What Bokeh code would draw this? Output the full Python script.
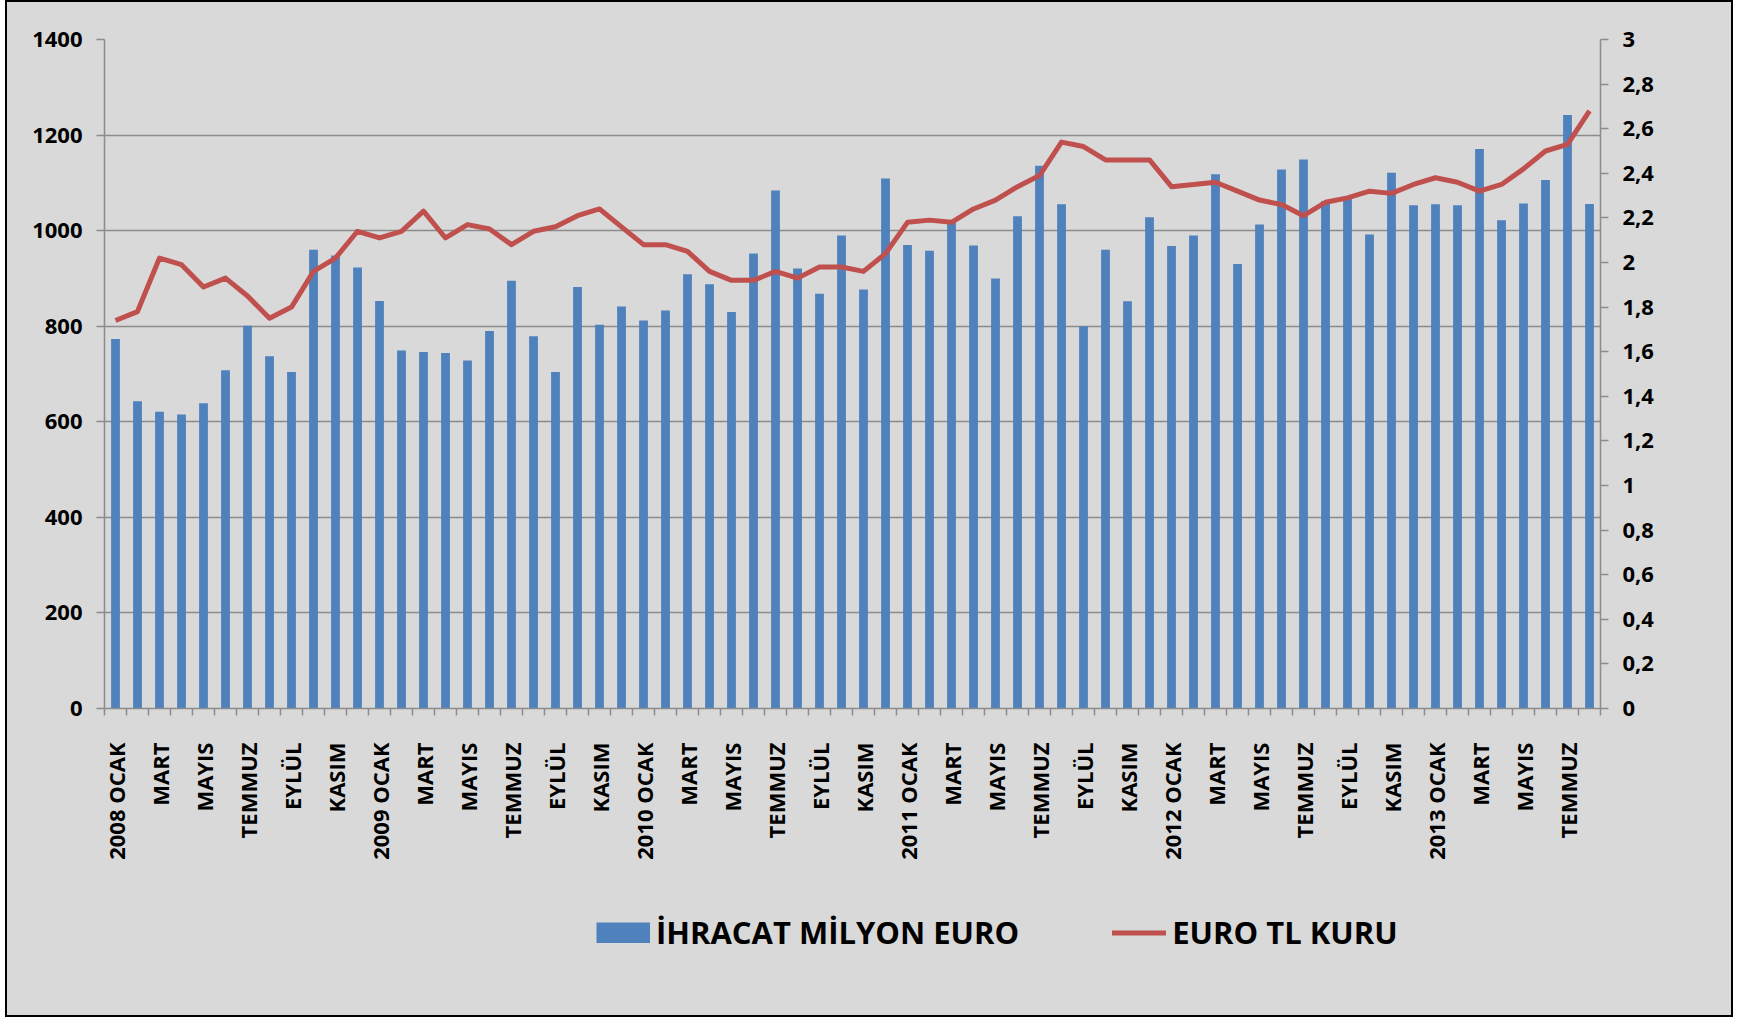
import math
from bokeh.plotting import figure
from bokeh.layouts import column
from bokeh.models import (Range1d, LinearAxis, FixedTicker, SingleIntervalTicker,
                          CustomJSTickFormatter, Legend, LegendItem)
from bokeh.embed import file_html
from bokeh.resources import INLINE

years = ["2008", "2009", "2010", "2011", "2012", "2013"]
month_names = ["OCAK", "ŞUBAT", "MART", "NİSAN", "MAYIS", "HAZİRAN",
               "TEMMUZ", "AĞUSTOS", "EYLÜL", "EKİM", "KASIM", "ARALIK"]
months_in_last_year = 8

ihracat = [773, 643, 621, 615, 639, 708, 801, 737, 704, 960, 948, 923,
           853, 749, 746, 744, 728, 790, 895, 779, 704, 882, 803, 841,
           812, 833, 909, 888, 830, 952, 1084, 921, 868, 990, 877, 1109,
           970, 958, 1018, 969, 900, 1030, 1136, 1055, 800, 960, 852, 1028,
           968, 990, 1118, 930, 1013, 1128, 1149, 1062, 1067, 992, 1121, 1053,
           1055, 1053, 1171, 1022, 1057, 1106, 1242, 1056]

kur = [1.74, 1.78, 2.02, 1.99, 1.89, 1.93, 1.85, 1.75, 1.80, 1.96, 2.02, 2.14,
       2.11, 2.14, 2.23, 2.11, 2.17, 2.15, 2.08, 2.14, 2.16, 2.21, 2.24, 2.16,
       2.08, 2.08, 2.05, 1.96, 1.92, 1.92, 1.96, 1.93, 1.98, 1.98, 1.96, 2.04,
       2.18, 2.19, 2.18, 2.24, 2.28, 2.34, 2.39, 2.54, 2.52, 2.46, 2.46, 2.46,
       2.34, 2.35, 2.36, 2.32, 2.28, 2.26, 2.21, 2.27, 2.29, 2.32, 2.31, 2.35,
       2.38, 2.36, 2.32, 2.35, 2.42, 2.50, 2.53, 2.68]

series_names = ["İHRACAT MİLYON EURO", "EURO TL KURU"]

# category labels: "2008 OCAK", "ŞUBAT", ...
labels = []
for yi, yr in enumerate(years):
    n = months_in_last_year if yi == len(years) - 1 else 12
    for m in range(n):
        labels.append(f"{yr} {month_names[m]}" if m == 0 else month_names[m])

n = len(labels)
xs = [i + 0.5 for i in range(n)]

BG = "#D9D9D9"
GRID = "#8C8C8C"
BLUE = "#4F81BD"
RED = "#C0504D"
FONT = "Open Sans"

W = 1728
H_MAIN = 872
H_LEG = 1017 - H_MAIN

p = figure(width=W, height=H_MAIN, output_backend="svg", toolbar_location=None,
           x_range=Range1d(0, n), y_range=Range1d(0, 1400),
           background_fill_alpha=0, border_fill_alpha=0,
           min_border_left=99, min_border_right=133, min_border_top=39,
           min_border_bottom=H_MAIN - 708)
p.outline_line_color = None
p.extra_y_ranges = {"kur": Range1d(0, 3)}

bars = p.vbar(x=xs, top=ihracat, width=0.4, fill_color=BLUE, line_color=None)
line = p.line(x=xs, y=kur, y_range_name="kur", line_color=RED, line_width=5,
              line_join="round")

# grid
p.xgrid.visible = False
p.ygrid.ticker = SingleIntervalTicker(interval=200)
p.ygrid.grid_line_color = GRID
p.ygrid.grid_line_width = 1.5

# x axis
xa = p.xaxis[0]
label_pos = [xs[i] for i in range(0, n, 2)]
xa.ticker = FixedTicker(ticks=label_pos, minor_ticks=list(range(n + 1)))
xa.major_label_overrides = {xs[i]: labels[i] for i in range(0, n, 2)}
xa.major_label_orientation = math.pi / 2
xa.major_tick_in = 0
xa.major_tick_out = 0
xa.minor_tick_in = 0
xa.minor_tick_out = 7
xa.minor_tick_line_color = GRID
xa.minor_tick_line_width = 1.5
xa.axis_line_color = GRID
xa.axis_line_width = 1.5
xa.major_label_standoff = 27
xa.major_label_text_font = FONT
xa.major_label_text_font_style = "bold"
xa.major_label_text_font_size = "22px"
xa.major_label_text_color = "#000000"

# left y axis
ya = p.yaxis[0]
ya.ticker = SingleIntervalTicker(interval=200)
ya.minor_tick_line_color = None
ya.major_tick_in = 0
ya.major_tick_out = 8
ya.major_tick_line_color = GRID
ya.major_tick_line_width = 1.5
ya.axis_line_color = GRID
ya.axis_line_width = 1.5
ya.major_label_standoff = 14
ya.major_label_text_font = FONT
ya.major_label_text_font_style = "bold"
ya.major_label_text_font_size = "22px"
ya.major_label_text_color = "#000000"

# right y axis
ra = LinearAxis(y_range_name="kur", ticker=SingleIntervalTicker(interval=0.2),
                formatter=CustomJSTickFormatter(
                    code="return (Math.round(tick*10)/10).toString().replace('.', ',');"))
ra.minor_tick_line_color = None
ra.major_tick_in = 0
ra.major_tick_out = 8
ra.major_tick_line_color = GRID
ra.major_tick_line_width = 1.5
ra.axis_line_color = GRID
ra.axis_line_width = 1.5
ra.major_label_standoff = 14
ra.major_label_text_font = FONT
ra.major_label_text_font_style = "bold"
ra.major_label_text_font_size = "22px"
ra.major_label_text_color = "#000000"
p.add_layout(ra, "right")

# legend strip below the chart (series drawn out of view, only legend swatches show)
q = figure(width=W, height=H_LEG, output_backend="svg", toolbar_location=None,
           x_range=Range1d(0, n), y_range=Range1d(-2, -1),
           background_fill_alpha=0, border_fill_alpha=0,
           min_border=0, min_border_left=0, min_border_right=0,
           min_border_top=0, min_border_bottom=0)
q.axis.visible = False
q.grid.visible = False
q.outline_line_color = None
lb = q.line(x=xs, y=ihracat, line_color=BLUE, line_width=21, line_cap="butt")
ll = q.line(x=xs, y=kur, line_color=RED, line_width=5, line_cap="round")

legend = Legend(items=[LegendItem(label=series_names[0], renderers=[lb]),
                       LegendItem(label=series_names[1], renderers=[ll])],
                orientation="horizontal", location=(492, H_LEG - 60 - 21),
                background_fill_alpha=0, border_line_color=None,
                padding=0, margin=0, spacing=93, label_standoff=6,
                glyph_width=54, glyph_height=21, label_height=21,
                label_text_font=FONT, label_text_font_style="bold",
                label_text_font_size="31px", label_text_color="#000000")
q.add_layout(legend, "center")

layout = column(p, q, spacing=0)
layout.styles = {"outline": "2px solid #000000", "outline-offset": "-2px",
                 "margin-left": "5px", "background-color": BG}

open("out.html", "w").write(file_html(layout, INLINE))
